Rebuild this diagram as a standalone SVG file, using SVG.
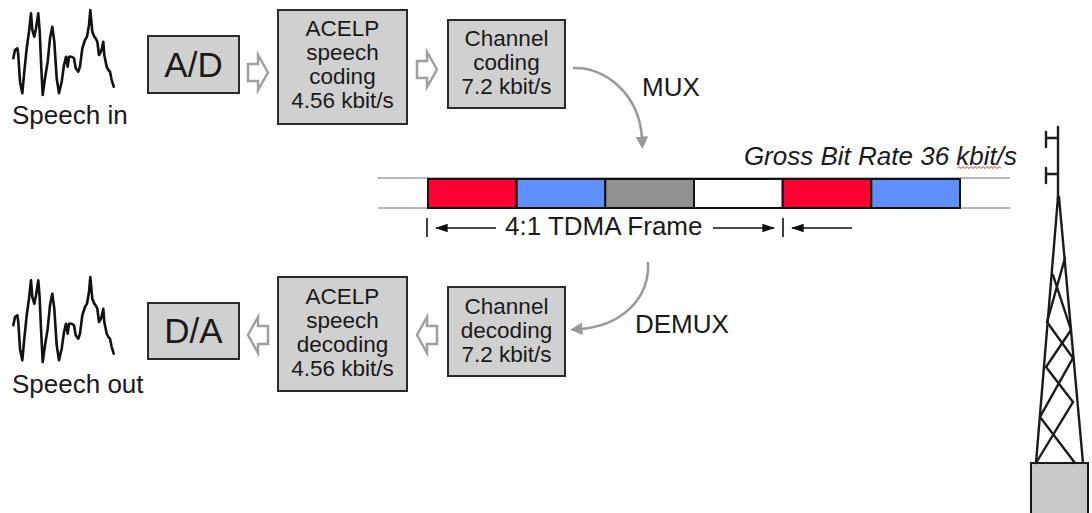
<svg xmlns="http://www.w3.org/2000/svg" width="1092" height="513" viewBox="0 0 1092 513">
  <style>
    text { font-family: "Liberation Sans", Arial, sans-serif; fill: #1a1a1a; }
    .box { fill: #d0d0d0; stroke: #2a2a2a; stroke-width: 2; }
    .bt { font-size: 22.5px; text-anchor: middle; }
    .big { font-size: 35px; text-anchor: middle; }
    .lbl { font-size: 26px; }
    .wave { fill: none; stroke: #111; stroke-width: 2.6; stroke-linejoin: round; stroke-linecap: round; }
    .hollow { fill: #fff; stroke: #a0a0a0; stroke-width: 2.5; stroke-linejoin: miter; }
    .curve { fill: none; stroke: #999; stroke-width: 2.5; }
    .slot { stroke: #111; stroke-width: 2; }
    .rail { stroke: #a0a0a0; stroke-width: 1.6; }
    .dim { stroke: #111; stroke-width: 1.6; }
    .tower { fill: none; stroke: #1a1a1a; stroke-width: 2.4; stroke-linecap: round; }
  </style>
  <defs>
    <polyline id="wave" class="wave" points="13.3,58.3 15,50 17.3,48.3 18.3,55 20,81.7 22.3,93.3 24.3,71.7 26.7,48.3 29,31.7 31,13.3 32.3,30 34.3,36.7 36,28.3 38.3,13.3 39.7,31.7 41,61.7 42.7,95 45,78.3 47.7,61.7 50,38.3 52.3,26.7 54.3,41.7 56.7,78.3 59,93.3 61.7,81.7 64,65 66,56.7 67.7,66.7 69,56.7 71.7,56.7 74,58.3 75.7,68.3 78.3,71.7 80,66.7 82.3,48.3 85,40 87,36.7 89,25 90.3,10 92.3,31.7 94.3,36.7 95.7,38.3 97.3,41.7 99,55 101,51.7 103.3,41.7 104.3,55 106.7,66.7 108.3,70 110,71.7 111.7,80 113.7,86.7"/>
    <marker id="grayHead" viewBox="0 0 10 10" refX="2" refY="5" markerWidth="5" markerHeight="5" orient="auto" markerUnits="strokeWidth">
      <path d="M0,0 L10,5 L0,10 Z" fill="#999"/>
    </marker>
    <marker id="blackHead" viewBox="0 0 12 8" refX="11" refY="4" markerWidth="8" markerHeight="5.3" orient="auto" markerUnits="strokeWidth">
      <path d="M0,0 L12,4 L0,8 Z" fill="#111"/>
    </marker>
  </defs>

  <!-- transmit chain -->
  <g id="speech-in">
    <use href="#wave"/>
    <text class="lbl" x="12" y="124">Speech in</text>
  </g>
  <g id="ad">
    <rect class="box" x="148" y="36" width="91" height="57"/>
    <text class="big" x="193.5" y="77">A/D</text>
  </g>
  <g id="acelp-coding">
    <rect class="box" x="278" y="10" width="129" height="114"/>
    <text class="bt" x="342.5" y="36">ACELP</text>
    <text class="bt" x="342.5" y="60">speech</text>
    <text class="bt" x="342.5" y="84">coding</text>
    <text class="bt" x="342.5" y="108">4.56 kbit/s</text>
  </g>
  <g id="channel-coding">
    <rect class="box" x="448" y="20" width="117" height="88"/>
    <text class="bt" x="506.5" y="46">Channel</text>
    <text class="bt" x="506.5" y="70">coding</text>
    <text class="bt" x="506.5" y="94">7.2 kbit/s</text>
  </g>

  <!-- receive chain -->
  <g id="speech-out">
    <use href="#wave" transform="translate(0,267)"/>
    <text class="lbl" x="12" y="393">Speech out</text>
  </g>
  <g id="da">
    <rect class="box" x="148" y="303" width="91" height="56"/>
    <text class="big" x="193.5" y="343">D/A</text>
  </g>
  <g id="acelp-decoding">
    <rect class="box" x="278" y="277" width="129" height="114"/>
    <text class="bt" x="342.5" y="304">ACELP</text>
    <text class="bt" x="342.5" y="328">speech</text>
    <text class="bt" x="342.5" y="352">decoding</text>
    <text class="bt" x="342.5" y="376">4.56 kbit/s</text>
  </g>
  <g id="channel-decoding">
    <rect class="box" x="448" y="287" width="117" height="89"/>
    <text class="bt" x="506.5" y="314">Channel</text>
    <text class="bt" x="506.5" y="338">decoding</text>
    <text class="bt" x="506.5" y="362">7.2 kbit/s</text>
  </g>

  <!-- TDMA frame -->
  <g id="tdma-frame">
    <line class="rail" x1="378" y1="178" x2="1010" y2="178"/>
    <line class="rail" x1="378" y1="208" x2="1010" y2="208"/>
    <rect class="slot" x="428" y="179" width="88.7" height="29" fill="#ff0030"/>
    <rect class="slot" x="516.7" y="179" width="88.6" height="29" fill="#6090ff"/>
    <rect class="slot" x="605.3" y="179" width="88.7" height="29" fill="#919191"/>
    <rect class="slot" x="694" y="179" width="88.7" height="29" fill="#ffffff"/>
    <rect class="slot" x="782.7" y="179" width="88.6" height="29" fill="#ff0030"/>
    <rect class="slot" x="871.3" y="179" width="88.7" height="29" fill="#6090ff"/>
    <text x="1017" y="165" font-size="26" font-style="italic" text-anchor="end">Gross Bit Rate 36 kbit/s</text>
    <path d="M957,168.5 l2,-2 l2,2 l2,-2 l2,2 l2,-2 l2,2 l2,-2 l2,2 l2,-2 l2,2 l2,-2 l2,2 l2,-2 l2,2 l2,-2 l2,2 l2,-2 l2,2 l2,-2 l2,2 l2,-2 l2,2" fill="none" stroke="#ff2020" stroke-width="1"/>
  </g>
  <g id="frame-label">
    <line class="dim" x1="427" y1="218" x2="427" y2="237"/>
    <line class="dim" x1="783" y1="218" x2="783" y2="237"/>
    <line class="dim" x1="496" y1="228" x2="436" y2="228" marker-end="url(#blackHead)"/>
    <line class="dim" x1="713" y1="228" x2="774" y2="228" marker-end="url(#blackHead)"/>
    <line class="dim" x1="852" y1="228" x2="792" y2="228" marker-end="url(#blackHead)"/>
    <text x="505" y="235" font-size="26">4:1 TDMA Frame</text>
  </g>

  <!-- antenna mast -->
  <g id="tower">
    <rect x="1031" y="463" width="57" height="55" fill="#c8c8c8" stroke="#1a1a1a" stroke-width="2"/>
    <path class="tower" d="M1058,127 V200 M1046,138 H1058 M1046,132 V147 M1046,174 H1058 M1046,168 V183"/>
    <path class="tower" d="M1058,197 L1036,463 M1059,197 L1083,463"/>
    <path class="tower" d="M1065,258 L1047,322 L1073,358 L1040,417 L1075,463"/>
    <path class="tower" d="M1053,275 L1071,330 L1046,367 L1073,402 L1036,463"/>
  </g>

  <!-- connectors -->
  <g id="connectors">
    <path class="hollow" d="M248,64 H258 V55 L268,72.5 L258,90 V81 H248 Z"/>
    <path class="hollow" d="M417,61 H427 V52 L437,69.5 L427,87 V78 H417 Z"/>
    <path class="hollow" d="M268,326 H258 V317 L248,335 L258,353 V344 H268 Z"/>
    <path class="hollow" d="M437,326 H427 V317 L417,335 L427,353 V344 H437 Z"/>
    <path class="curve" d="M573,68 C605,66 640,95 642,139" marker-end="url(#grayHead)"/>
    <path class="curve" d="M648,262 C650,300 620,326 580,329" marker-end="url(#grayHead)"/>
  </g>
  <g id="mux-labels">
    <text x="642" y="96" font-size="26">MUX</text>
    <text x="635" y="333" font-size="26">DEMUX</text>
  </g>
</svg>
